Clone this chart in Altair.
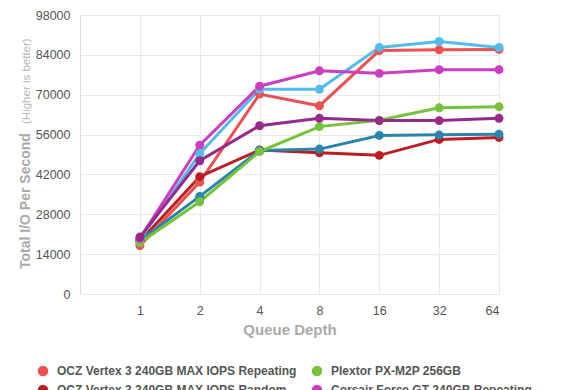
import altair as alt
import pandas as pd

queue_labels = ["1", "2", "4", "8", "16", "32", "64"]
queue_pos = [1, 2, 3, 4, 5, 6, 7]

series_names = [
    "OCZ Vertex 3 240GB MAX IOPS Repeating",
    "OCZ Vertex 3 240GB MAX IOPS Random",
    "Crucial m4 256GB Repeating",
    "Crucial m4 256GB Random",
    "Plextor PX-M2P 256GB",
    "Corsair Force GT 240GB Repeating",
    "Corsair Force GT 240GB Random",
]
series_colors = ["#ec5050", "#bb1e22", "#52bdea", "#2a85aa", "#76c23b", "#cc3dc3", "#952a8c"]

ocz_repeating = [17000, 39300, 70200, 66100, 85500, 85800, 85900]
ocz_random = [18500, 41200, 50600, 49600, 48700, 54300, 55000]
crucial_repeating = [19000, 49300, 71900, 71900, 86600, 88700, 86600]
crucial_random = [18700, 34300, 50400, 50900, 55700, 55900, 56100]
plextor = [18000, 32400, 50000, 58800, 61000, 65400, 65800]
corsair_repeating = [19500, 52300, 73000, 78400, 77500, 78800, 78800]
corsair_random = [20000, 46800, 59100, 61700, 60900, 60900, 61700]

y_ticks = [0, 14000, 28000, 42000, 56000, 70000, 84000, 98000]

values = [ocz_repeating, ocz_random, crucial_repeating, crucial_random,
          plextor, corsair_repeating, corsair_random]
rows = []
for name, vals in zip(series_names, values):
    for p, lab, v in zip(queue_pos, queue_labels, vals):
        rows.append({"series": name, "pos": p, "qd": lab, "iops": v})
df = pd.DataFrame(rows)

font = "Liberation Sans"

x_axis = alt.Axis(values=queue_pos, tickCount=10,
                  labelExpr="['1','2','4','8','16','32','64'][datum.value-1]",
                  title="Queue Depth", titleFont=font, titleFontSize=15,
                  titleFontWeight="bold", titleColor="#aaaaaa", titlePadding=6,
                  labelFont=font, labelFontSize=12.5, labelColor="#555555",
                  labelPadding=10, ticks=False, domain=False, labelOverlap=False,
                  grid=True, gridColor="#e9e9e9", gridWidth=1)
y_axis = alt.Axis(values=y_ticks, tickCount=12, format="d", title=None,
                  labelFont=font, labelFontSize=12.5, labelColor="#555555",
                  labelPadding=10, ticks=False, domain=False, labelOverlap=False,
                  grid=True, gridColor="#e9e9e9", gridWidth=1)
x_scale = alt.Scale(domain=[0, 7], nice=False, zero=False)
y_scale = alt.Scale(domain=[0, 98000], nice=False)
color_scale = alt.Scale(domain=series_names, range=series_colors)

color_enc = alt.Color("series:N", scale=color_scale, sort=series_names,
                      legend=alt.Legend(title=None, orient="none", legendX=-43, legendY=350,
                                        columns=2, columnPadding=14, rowPadding=7,
                                        symbolType="circle", symbolSize=110,
                                        symbolStrokeWidth=0, labelFont=font,
                                        labelFontSize=12, labelFontWeight="bold",
                                        labelColor="#555555", labelOffset=8,
                                        padding=0, labelLimit=400))

base = alt.Chart(df)
lines = base.mark_line(strokeWidth=3).encode(
    x=alt.X("pos:Q", scale=x_scale, axis=x_axis),
    y=alt.Y("iops:Q", scale=y_scale, axis=y_axis),
    color=color_enc, detail="series:N",
    order=alt.Order("pos:Q"))
points = base.mark_circle(size=80, opacity=1).encode(
    x=alt.X("pos:Q", scale=x_scale, axis=x_axis),
    y=alt.Y("iops:Q", scale=y_scale, axis=y_axis),
    color=alt.Color("series:N", scale=color_scale, legend=None))

title_df = pd.DataFrame({"t": ["Total I/O Per Second"]})
title1 = alt.Chart(title_df).mark_text(
    angle=270, align="left", baseline="alphabetic", font=font, fontSize=14,
    fontWeight="bold", color="#aaaaaa").encode(
    text="t:N", x=alt.value(-50), y=alt.value(254))
title_df2 = pd.DataFrame({"t": ["(Higher is better)"]})
title2 = alt.Chart(title_df2).mark_text(
    angle=270, align="left", baseline="alphabetic", font=font, fontSize=11.5,
    color="#b8b8b8").encode(
    text="t:N", x=alt.value(-50), y=alt.value(109))

chart = alt.layer(lines, points, title1, title2).properties(
    width=419, height=279,
    autosize=alt.AutoSizeParams(type="none"),
    padding={"left": 72, "top": 7, "right": 73, "bottom": 110},
).configure_view(stroke="#bbbbbb", strokeWidth=1.5).configure(background="white")

chart.save("out.html", embed_options={"renderer": "svg", "actions": False})
